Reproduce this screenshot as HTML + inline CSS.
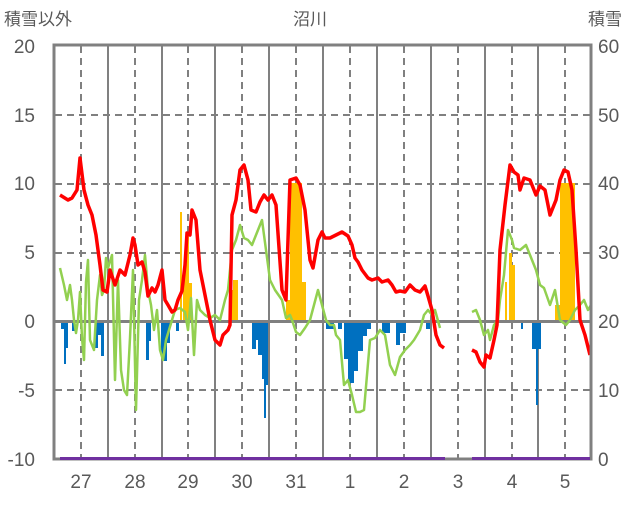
<!DOCTYPE html>
<html><head><meta charset="utf-8"><style>
body{margin:0;background:#fff;}
text{font-family:"Liberation Sans","Noto Sans CJK JP",sans-serif;fill:#595959;}
</style></head><body>
<svg width="636" height="501" xmlns="http://www.w3.org/2000/svg">
<text x="4" y="25" font-size="17">積雪以外</text>
<text x="310" y="25" font-size="17" text-anchor="middle">沼川</text>
<text x="588" y="25" font-size="17">積雪</text>
<g font-size="19" text-anchor="end">
<text x="35" y="53">20</text><text x="35" y="122">15</text><text x="35" y="190">10</text>
<text x="35" y="259">5</text><text x="35" y="328">0</text><text x="35" y="397">-5</text><text x="35" y="466">-10</text>
</g>
<g font-size="19">
<text x="598" y="53">60</text><text x="598" y="122">50</text><text x="598" y="190">40</text>
<text x="598" y="259">30</text><text x="598" y="328">20</text><text x="598" y="397">10</text><text x="598" y="466">0</text>
</g>
<g font-size="19" text-anchor="middle">
<text x="81" y="488">27</text><text x="135" y="488">28</text><text x="188" y="488">29</text><text x="242" y="488">30</text>
<text x="296" y="488">31</text><text x="350" y="488">1</text><text x="404" y="488">2</text><text x="458" y="488">3</text>
<text x="512" y="488">4</text><text x="565" y="488">5</text>
</g>
<g stroke="#808080" stroke-width="2" stroke-dasharray="7,5">
<line x1="55" y1="115" x2="591" y2="115"/><line x1="55" y1="184" x2="591" y2="184"/>
<line x1="55" y1="253" x2="591" y2="253"/><line x1="55" y1="390" x2="591" y2="390"/>
<line x1="81" y1="46" x2="81" y2="459"/><line x1="135" y1="46" x2="135" y2="459"/><line x1="188" y1="46" x2="188" y2="459"/>
<line x1="242" y1="46" x2="242" y2="459"/><line x1="296" y1="46" x2="296" y2="459"/><line x1="350" y1="46" x2="350" y2="459"/>
<line x1="404" y1="46" x2="404" y2="459"/><line x1="458" y1="46" x2="458" y2="459"/><line x1="512" y1="46" x2="512" y2="459"/>
<line x1="565" y1="46" x2="565" y2="459"/>
</g>
<g stroke="#808080" stroke-width="2">
<line x1="108" y1="46" x2="108" y2="459"/><line x1="162" y1="46" x2="162" y2="459"/><line x1="215" y1="46" x2="215" y2="459"/>
<line x1="269" y1="46" x2="269" y2="459"/><line x1="323" y1="46" x2="323" y2="459"/><line x1="377" y1="46" x2="377" y2="459"/>
<line x1="431" y1="46" x2="431" y2="459"/><line x1="485" y1="46" x2="485" y2="459"/><line x1="538" y1="46" x2="538" y2="459"/>
</g>
<g fill="#ffc000">
<rect x="180" y="212" width="2" height="110"/><rect x="183" y="267" width="3" height="55"/><rect x="186" y="232" width="3" height="90"/><rect x="189" y="283" width="3" height="39"/>
<rect x="230" y="290" width="3" height="32"/><rect x="233" y="280" width="5" height="42"/>
<rect x="286" y="300" width="4" height="22"/><rect x="290" y="183" width="12" height="139"/><rect x="302" y="282" width="4" height="40"/>
<rect x="505" y="282" width="2" height="40"/><rect x="509" y="253" width="3" height="69"/><rect x="512" y="265" width="3" height="57"/>
<rect x="555" y="305" width="5" height="17"/><rect x="560" y="183" width="15" height="139"/>
</g>
<g fill="#0070c0">
<rect x="61" y="321" width="3" height="8"/><rect x="64" y="321" width="2" height="43"/><rect x="66" y="321" width="2" height="27"/><rect x="72" y="321" width="3" height="10"/>
<rect x="95" y="321" width="3" height="27"/><rect x="98" y="321" width="3" height="14"/><rect x="101" y="321" width="3" height="35"/>
<rect x="146" y="321" width="3" height="39"/><rect x="149" y="321" width="2" height="20"/><rect x="161" y="321" width="3" height="34"/><rect x="164" y="321" width="3" height="40"/><rect x="167" y="321" width="3" height="22"/><rect x="176" y="321" width="3" height="10"/>
<rect x="252" y="321" width="4" height="28"/><rect x="256" y="321" width="2" height="19"/><rect x="258" y="321" width="4" height="34"/><rect x="262" y="321" width="2" height="58"/><rect x="264" y="321" width="2" height="97"/><rect x="266" y="321" width="2" height="64"/>
<rect x="326" y="321" width="8" height="8"/><rect x="338" y="321" width="4" height="8"/><rect x="344" y="321" width="4" height="38"/><rect x="348" y="321" width="6" height="62"/><rect x="354" y="321" width="4" height="50"/><rect x="358" y="321" width="5" height="30"/><rect x="363" y="321" width="4" height="15"/><rect x="367" y="321" width="4" height="8"/>
<rect x="382" y="321" width="8" height="12"/><rect x="396" y="321" width="4" height="24"/><rect x="400" y="321" width="6" height="12"/><rect x="426" y="321" width="4" height="8"/>
<rect x="521" y="321" width="2" height="8"/><rect x="532" y="321" width="4" height="28"/><rect x="536" y="321" width="2" height="84"/><rect x="538" y="321" width="3" height="28"/>
</g>
<line x1="55" y1="321.5" x2="591" y2="321.5" stroke="#808080" stroke-width="3"/>
<polyline fill="none" stroke="#92d050" stroke-width="2.5" stroke-linejoin="round" points="60,268 64,285 67,300 70,285 72,300 74,320 76,333 78,320 80,292 82,338 84,360 86,282 88,260 90,340 94,350 97,300 100,275 102,295 104,290 106,258 108,268 112,255 115,380 118,280 121,370 124,390 127,395 130,338 133,270 136,410 139,300 142,280 145,255 148,290 151,305 154,330 157,310 160,350 163,360 166,340 169,330 172,320 175,310 180,308 185,312 188,330 191,298 194,355 197,300 200,310 205,315 210,318 215,315 220,320 225,300 228,290 232,250 236,240 240,225 244,238 248,240 252,245 256,235 262,220 266,250 270,280 275,290 282,300 286,318 290,315 292,320 296,332 300,335 305,328 310,320 318,290 322,305 326,320 330,325 334,325 336,335 340,340 344,385 348,380 352,395 356,412 360,412 364,410 370,340 375,338 380,330 385,335 390,365 395,375 400,357 405,350 410,345 414,340 420,330 424,315 428,310 432,315 435,310 440,328"/>
<polyline fill="none" stroke="#92d050" stroke-width="2.5" stroke-linejoin="round" points="472,312 476,310 480,320 484,335 488,330 490,340 494,325 498,320 500,300 504,275 508,230 512,240 514,248 520,250 526,245 532,260 536,270 540,285 544,288 550,305 555,290 560,320 566,325 570,320 575,310 580,305 584,300 588,310 591,305"/>
<polyline fill="none" stroke="#ff0000" stroke-width="3.5" stroke-linejoin="round" points="60,195 68,200 72,198 77,190 80,158 84,190 88,205 92,215 96,235 100,265 103,290 107,292 110,270 115,285 120,270 125,275 130,255 133,238 135,245 138,265 142,262 145,272 148,296 152,288 155,292 158,285 162,270 165,300 168,305 172,312 175,310 178,300 182,291 185,265 187,233 190,235 192,210 196,220 200,270 205,295 210,320 215,340 220,345 223,335 228,330 230,325 232,215 236,200 240,170 244,165 248,180 251,210 256,212 260,202 264,195 268,200 272,195 276,205 282,290 286,300 290,180 296,178 300,185 305,210 310,260 313,268 318,240 322,232 325,238 330,238 336,235 342,232 348,236 352,245 355,258 358,262 362,270 368,278 372,280 378,278 382,282 388,280 392,285 396,292 400,291 405,292 410,285 415,290 420,292 425,286 428,296 432,310 436,335 440,345 444,348"/>
<polyline fill="none" stroke="#ff0000" stroke-width="3.5" stroke-linejoin="round" points="472,350 476,352 480,362 484,367 486,355 490,358 494,340 497,325 500,250 505,205 510,165 514,172 518,175 520,190 524,178 530,180 536,195 540,186 545,190 550,215 556,200 560,180 564,170 568,172 572,190 576,250 580,320 585,335 590,355"/>
<rect x="54" y="45" width="537" height="414" fill="none" stroke="#808080" stroke-width="3"/>
<line x1="60" y1="458.5" x2="445" y2="458.5" stroke="#7030a0" stroke-width="3"/>
<line x1="472" y1="458.5" x2="590" y2="458.5" stroke="#7030a0" stroke-width="3"/>
</svg>
</body></html>
